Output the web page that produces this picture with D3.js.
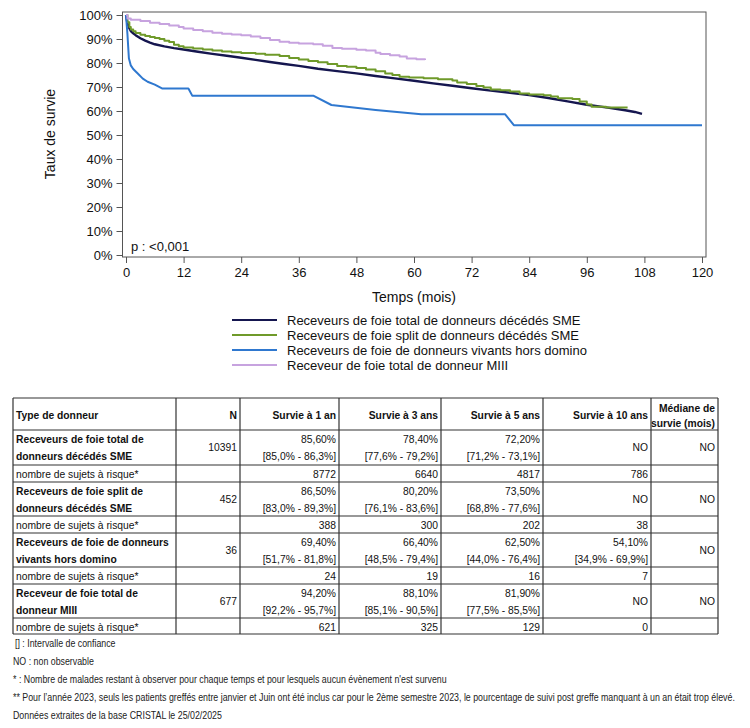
<!DOCTYPE html>
<html>
<head>
<meta charset="utf-8">
<script src="https://cdn.jsdelivr.net/npm/d3@7"></script>
<style>
  body { margin: 0; background: #fff; }
  text { font-family: Arial, "Liberation Sans", sans-serif; }
</style>
</head>
<body>
<svg id="page" width="750" height="728"></svg>
<script>
    // Survival curves (months, survival %)
    var totalSmeMonths = [0,0.3,0.7,1,1.5,2,3,4,5,6,8,10,12,15,18,21,24,27,30,33,36,40,44,48,52,56,60,64,68,72,76,80,84,88,92,96,100,104,106,107.5]
    var totalSmeSurv   = [100,96.5,94.5,93.3,92.4,91.6,90.3,89.3,88.5,87.8,86.9,86.2,85.6,84.7,83.8,83,82.2,81.3,80.4,79.6,78.8,77.6,76.6,75.7,74.6,73.6,72.6,71.5,70.5,69.5,68.5,67.6,66.6,65.4,64,62.6,61.5,60.3,59.6,58.8]

    var splitSmeMonths = [0,0.3,0.7,1,1.5,2,3,4,5,6,7,8,9,10,11,12,14,16,18,20,22,24,27,29,32,34,36,38,40,42,44,46,48,50,52,54,55.5,57,59,62,65,68,69,71,73,74.5,76,78,80,82,84,87,88.5,90,93,94.5,96,97,100,104.5]
    var splitSmeSurv   = [100,97,95,94,93.2,92.5,91.8,91.3,90.8,90.4,90,89.3,88.8,87.6,87,86.5,86,85.6,85.2,84.8,84.5,84.2,83.9,83.4,82.9,82.1,81.5,80.8,80.3,79.6,78.8,78.4,77.9,77.3,76.6,75.6,75,74.3,74,73.6,73.2,72.7,71.9,71.2,70.4,69.8,69,68.6,68.1,67.3,66.9,66.6,66,65.3,65,64,62.7,61.8,61.5,61.5]

    var livingMonths = [0,0.3,0.6,1,1.5,2.5,3.5,4.5,6,7.5,13,13.8,39,42.8,52,61.5,79,80.8,120]
    var livingSurv   = [100,92,82,79,77.5,75.5,73.5,72.2,71,69.4,69.4,66.4,66.4,62.5,60.4,58.6,58.6,54.1,54.1]

    var miiiMonths = [0,0.3,1,3,5,7,9,11,12,14,16,18,20,22,24,26,28,30,32,34,36,39,41,43,45,48,50,52,53,55,57,58.5,60.5,62.3]
    var miiiSurv   = [100,98.5,98,97.5,96.8,96.2,95.6,95,94.4,93.8,93.2,92.6,92.2,91.9,91.6,91,90.4,89.6,88.9,88.4,88.1,87.8,87.2,86.3,85.9,85.5,85.2,84.3,83.7,83.2,82.7,81.9,81.6,81.3]

    var seriesNames = ["Receveurs de foie total de donneurs décédés SME",
                       "Receveurs de foie split de donneurs décédés SME",
                       "Receveurs de foie de donneurs vivants hors domino",
                       "Receveur de foie total de donneur MIII"]
    var seriesColors = ["#15164f", "#6f9a2a", "#2f78cf", "#c7a3df"]

    var xTicks = [0,12,24,36,48,60,72,84,96,108,120]
    var yTicks = [0,10,20,30,40,50,60,70,80,90,100]

    // Table
    var tableHeaders = ["Type de donneur", "N", "Survie à 1 an", "Survie à 3 ans", "Survie à 5 ans", "Survie à 10 ans", ["Médiane de", "survie (mois)"]]
    var donorTypes = [["Receveurs de foie total de", "donneurs décédés SME"],
                      ["Receveurs de foie split de", "donneurs décédés SME"],
                      ["Receveurs de foie de donneurs", "vivants hors domino"],
                      ["Receveur de foie total de", "donneur MIII"]]
    var donorN = [10391, 452, 36, 677]
    var survivalRates = [["85,60%", "78,40%", "72,20%", "NO"],
                         ["86,50%", "80,20%", "73,50%", "NO"],
                         ["69,40%", "66,40%", "62,50%", "54,10%"],
                         ["94,20%", "88,10%", "81,90%", "NO"]]
    var survivalCI = [["[85,0% - 86,3%]", "[77,6% - 79,2%]", "[71,2% - 73,1%]", ""],
                      ["[83,0% - 89,3%]", "[76,1% - 83,6%]", "[68,8% - 77,6%]", ""],
                      ["[51,7% - 81,8%]", "[48,5% - 79,4%]", "[44,0% - 76,4%]", "[34,9% - 69,9%]"],
                      ["[92,2% - 95,7%]", "[85,1% - 90,5%]", "[77,5% - 85,5%]", ""]]
    var atRisk = [[8772, 6640, 4817, 786],
                  [388, 300, 202, 38],
                  [24, 19, 16, 7],
                  [621, 325, 129, 0]]
    var medianSurvival = ["NO", "NO", "NO", "NO"]
    var atRiskLabel = "nombre de sujets à risque*"

    var footNotes = ["[] : Intervalle de confiance",
                     "NO : non observable",
                     "* : Nombre de malades restant à observer pour chaque temps et pour lesquels aucun évènement n'est survenu",
                     "** Pour l’année 2023, seuls les patients greffés entre janvier et Juin ont été inclus car pour le 2ème semestre 2023, le pourcentage de suivi post greffe manquant à un an était trop élevé.",
                     "Données extraites de la base CRISTAL le 25/02/2025"]

    var svg = d3.select("#page")

    var plot = {left: 122.5, right: 706, top: 12, bottom: 257}
    var xScale = d3.scaleLinear().domain([0, 120]).range([126, 702])
    var yScale = d3.scaleLinear().domain([0, 100]).range([255, 15])


    function displayChart() {
      let series = [
        {months: totalSmeMonths, surv: totalSmeSurv, curve: d3.curveLinear, w: 2.4},
        {months: splitSmeMonths, surv: splitSmeSurv, curve: d3.curveStepAfter, w: 2},
        {months: livingMonths, surv: livingSurv, curve: d3.curveLinear, w: 2},
        {months: miiiMonths, surv: miiiSurv, curve: d3.curveStepAfter, w: 2}
      ]

      // frame
      svg.append("rect")
        .attr("x", plot.left).attr("y", plot.top)
        .attr("width", plot.right - plot.left).attr("height", plot.bottom - plot.top)
        .attr("fill", "none").attr("stroke", "#555").attr("stroke-width", 1)

      let yAxis = d3.axisLeft(yScale).tickValues(yTicks).tickFormat(d => d + "%").tickSize(6).tickPadding(4)
      let yg = svg.append("g").attr("transform", `translate(${plot.left},0)`).call(yAxis)
      yg.select(".domain").remove()
      yg.selectAll("line").attr("stroke", "#555")
      yg.selectAll("text").attr("font-size", 13).attr("fill", "#111").style("font-family", "Arial, 'Liberation Sans'")

      let xAxis = d3.axisBottom(xScale).tickValues(xTicks).tickSize(6).tickPadding(5)
      let xg = svg.append("g").attr("transform", `translate(0,${plot.bottom})`).call(xAxis)
      xg.select(".domain").remove()
      xg.selectAll("line").attr("stroke", "#555")
      xg.selectAll("text").attr("font-size", 13).attr("fill", "#111").style("font-family", "Arial, 'Liberation Sans'")

      svg.append("text").attr("transform", "translate(55,134) rotate(-90)")
        .attr("text-anchor", "middle").attr("font-size", 14).attr("fill", "#111").text("Taux de survie")
      svg.append("text").attr("x", 414).attr("y", 302)
        .attr("text-anchor", "middle").attr("font-size", 14).attr("fill", "#111").text("Temps (mois)")

      svg.append("text").attr("x", 131).attr("y", 251).attr("font-size", 13).attr("fill", "#111").text("p : <0,001")

      // curves
      series.forEach((s, i) => {
        let pts = s.months.map((m, k) => [m, s.surv[k]])
        let line = d3.line().x(d => xScale(d[0])).y(d => yScale(d[1])).curve(s.curve)
        svg.append("path").attr("d", line(pts))
          .attr("fill", "none").attr("stroke", seriesColors[i]).attr("stroke-width", s.w)
          .attr("stroke-linejoin", "round")
      })
    }


    function displayLegend() {
      let lg = svg.append("g").selectAll("g").data(seriesNames).enter().append("g")
        .attr("transform", (d, i) => `translate(0,${320 + i * 15})`)
      lg.append("line").attr("x1", 232).attr("x2", 277).attr("y1", 0).attr("y2", 0)
        .attr("stroke", (d, i) => seriesColors[i]).attr("stroke-width", 2)
      lg.append("text").attr("x", 287).attr("y", 4.5).attr("font-size", 13).attr("fill", "#111").text(d => d)
    }


    function displayTable() {
      let colEdges = [13, 176, 240, 339, 441, 543, 651, 718]
      let rowEdges = [398, 430, 465, 482, 516, 533, 567, 584, 618, 634]
      let fs = 10.3
      let g = svg.append("g").attr("font-size", fs).attr("fill", "#111")

      function cellText(x, y, str, anchor, bold) {
        g.append("text").attr("x", x).attr("y", y).attr("text-anchor", anchor)
          .attr("font-weight", bold ? "bold" : "normal").text(str)
      }
      let right = c => colEdges[c + 1] - 3

      // header
      tableHeaders.forEach((h, c) => {
        if (Array.isArray(h)) {
          cellText(right(c), 412, h[0], "end", true)
          cellText(right(c), 427, h[1], "end", true)
        } else if (c === 0) {
          cellText(16, 419, h, "start", true)
        } else {
          cellText(right(c), 419, h, "end", true)
        }
      })

      donorTypes.forEach((lbl, r) => {
        let top = rowEdges[1 + r * 2]
        let riskTop = rowEdges[2 + r * 2]
        cellText(16, top + 13, lbl[0], "start", true)
        cellText(16, top + 30, lbl[1], "start", true)
        cellText(right(1), top + 21, donorN[r], "end", false)
        survivalRates[r].forEach((v, c) => {
          if (survivalCI[r][c] === "") {
            cellText(right(c + 2), top + 21, v, "end", false)
          } else {
            cellText(right(c + 2), top + 12.5, v, "end", false)
            cellText(right(c + 2), top + 30, survivalCI[r][c], "end", false)
          }
        })
        cellText(right(6), top + 21, medianSurvival[r], "end", false)

        cellText(16, riskTop + 12.5, atRiskLabel, "start", false)
        atRisk[r].forEach((v, c) => cellText(right(c + 2), riskTop + 12.5, v, "end", false))
      })

      // grid lines
      let lines = svg.append("g").attr("stroke", "#333").attr("stroke-width", 1.2)
      rowEdges.forEach(y => lines.append("line").attr("x1", colEdges[0]).attr("x2", colEdges[7]).attr("y1", y).attr("y2", y))
      colEdges.forEach(x => lines.append("line").attr("x1", x).attr("x2", x).attr("y1", rowEdges[0]).attr("y2", rowEdges[9]))
    }


    function displayNotes() {
      let g = svg.append("g").attr("font-size", 11).attr("fill", "#222")
      let ys = [647, 665, 683, 701, 719]
      let texts = g.selectAll("text").data(footNotes).enter().append("text")
        .attr("y", 0).text(d => d)
      // condense all lines like a narrow font, using the longest line as reference
      let ratio = 722 / texts.nodes()[3].getComputedTextLength()
      texts.attr("transform", (d, i) => `translate(${i === 0 ? 15 : 13},${ys[i]}) scale(${ratio},1)`)
    }


    displayChart()
    displayLegend()
    displayTable()
    displayNotes()
</script>
</body>
</html>
